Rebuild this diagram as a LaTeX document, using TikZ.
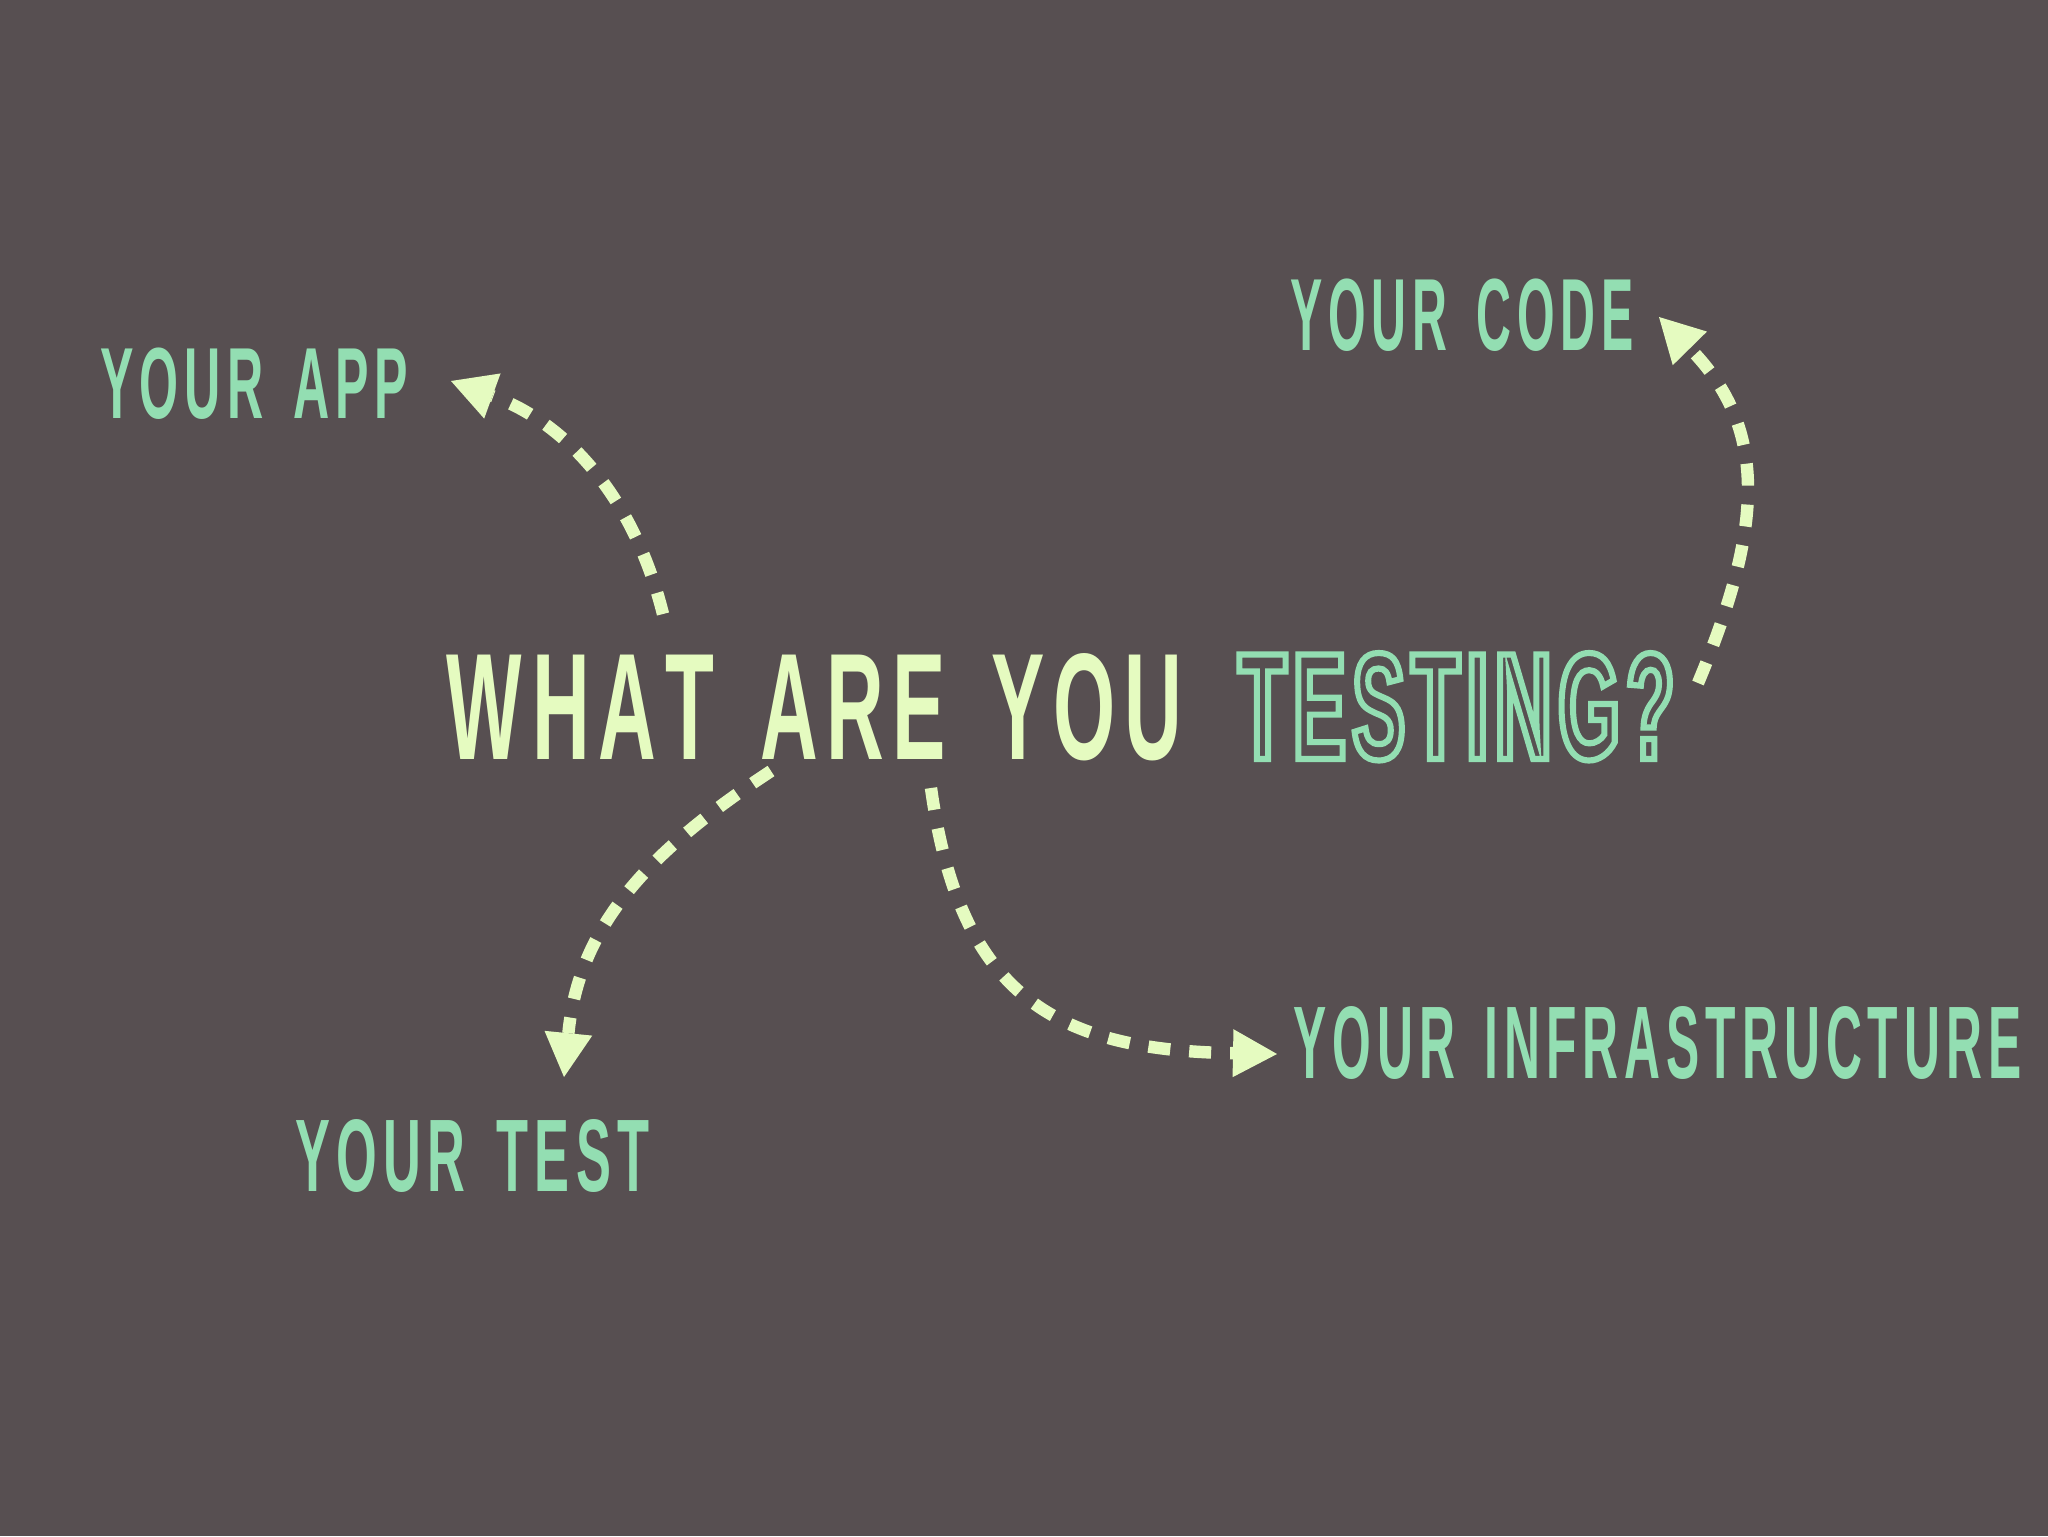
\documentclass[tikz,border=0pt]{standalone}
\usepackage{fontspec}
\usepackage{graphicx}
\setmainfont{Liberation Sans}
\newfontfamily\outfont{Liberation Sans}[FakeStretch=0.53]
\usetikzlibrary{arrows.meta}
\definecolor{bgc}{HTML}{574F51}
\definecolor{ylw}{HTML}{E5FBC0}
\definecolor{grn}{HTML}{93DEB2}
\newlength\lkamt \newlength\wkamt
\newcommand\lk{\kern\lkamt}
\newcommand\wk{ \hspace{\wkamt}}
\newcommand\outl[1]{\special{pdf:literal direct 1 Tr 3 w}#1\special{pdf:literal direct 0 Tr}}
\newcommand\labtext[3]{\resizebox{#1}{#2}{\fontsize{50}{50}\selectfont\bfseries
  \setlength\lkamt{6pt}\setlength\wkamt{16pt}#3}}
\begin{document}
\begin{tikzpicture}[x=0.5pt,y=-0.5pt,
  lbl/.style={inner sep=0pt, anchor=base west, text=grn},
  ttl/.style={inner sep=0pt, anchor=base west},
  darr/.style={draw=ylw, line width=6.2pt, dash pattern=on 11pt off 9.5pt,
    -{Triangle[length=22pt,width=24pt,line width=0pt]}}]
\fill[bgc] (0,0) rectangle (2048,1536);
\useasboundingbox (0,0) rectangle (2048,1536);

% title
\node[ttl, text=ylw] (what) at (446,759) {\resizebox{368pt}{53pt}{\fontsize{74}{74}\selectfont\bfseries
  \setlength\lkamt{8pt}\setlength\wkamt{22pt}%
  W\kern10pt H\lk A\lk T\wk A\lk R\lk E\wk Y\lk O\lk U}};
\node[ttl, text=grn] (testing) at (1238,759) {\resizebox{218pt}{53pt}{\outfont\bfseries\fontsize{74}{74}\selectfont
  \outl{T\kern3.3pt E\kern3.3pt S\kern3.3pt T\kern3.3pt I\kern3.3pt N\kern3.3pt G\kern3.3pt ?}}};

% labels
\node[lbl] (app) at (100,418) {\labtext{154pt}{35.3pt}{Y\lk O\lk U\lk R\wk A\lk P\lk P}};
\node[lbl] (code) at (1290,350) {\labtext{171.5pt}{35.8pt}{Y\lk O\lk U\lk R\wk C\lk O\lk D\lk E}};
\node[lbl] (test) at (295,1191) {\labtext{177pt}{36pt}{Y\lk O\lk U\lk R\wk T\lk E\lk S\lk T}};
\node[lbl] (infra) at (1293,1078) {\labtext{364pt}{36pt}{Y\lk O\lk U\lk R\wk I\lk N\lk F\lk R\lk A\lk S\lk T\lk R\lk U\lk C\lk T\lk U\lk R\lk E}};

% arrow ends
\coordinate (a1s) at (663,614);  \coordinate (a1e) at (451,381);
\coordinate (a2s) at (1698,683); \coordinate (a2e) at (1659,317);
\coordinate (a3s) at (771,771);  \coordinate (a3e) at (564,1077);
\coordinate (a4s) at (931,788);  \coordinate (a4e) at (1277,1054);

\draw[darr] (a1s) .. controls (633,494) and (564,422) .. (a1e);
\draw[darr] (a2s) .. controls (1762,530) and (1770,430) .. (a2e);
\draw[darr] (a3s) .. controls (646,853) and (579,927) .. (a3e);
\draw[darr] (a4s) .. controls (960,1000) and (1060,1050) .. (a4e);
\end{tikzpicture}
\end{document}
